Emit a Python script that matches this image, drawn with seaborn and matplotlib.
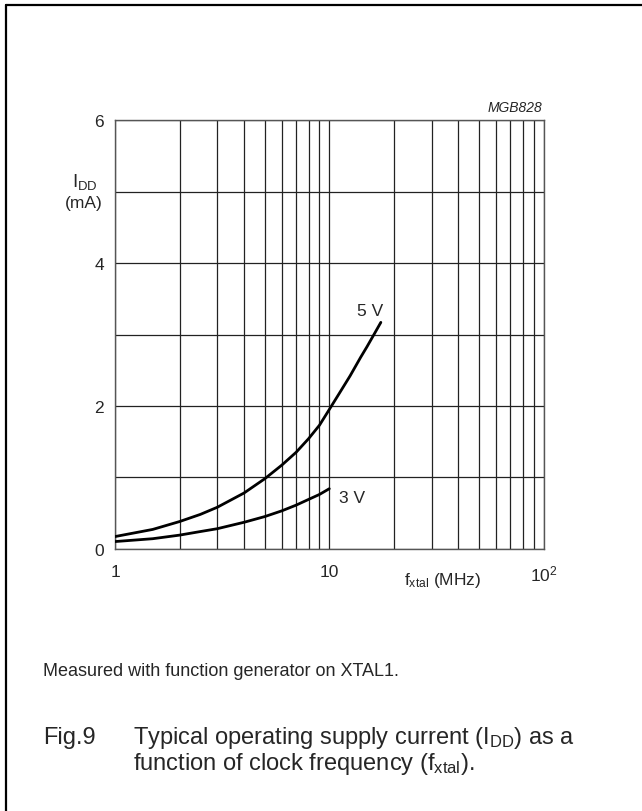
import numpy as np
import pandas as pd
import matplotlib
matplotlib.use("Agg")
import matplotlib.pyplot as plt
from matplotlib.lines import Line2D
import seaborn as sns

# ---- data ----
f_5v = [1, 1.5, 2, 2.5, 3, 4, 5, 6, 7, 8, 9, 10, 11, 12.5, 14, 15, 16.3, 17.4]
i_5v = [0.17, 0.27, 0.38, 0.48, 0.58, 0.78, 0.98, 1.17, 1.35, 1.54, 1.73, 1.95,
        2.15, 2.42, 2.68, 2.83, 3.02, 3.17]
f_3v = [1, 1.5, 2, 2.5, 3, 4, 5, 6, 7, 8, 9, 10]
i_3v = [0.10, 0.14, 0.19, 0.24, 0.28, 0.37, 0.45, 0.53, 0.61, 0.69, 0.76, 0.84]
y_ticks = [0, 2, 4, 6]
x_ticks = [1, 10, 100]
x_tick_labels = ["1", "10", r"10$^{2}$"]

sns.set_style("white")
plt.rcParams["font.family"] = ["Liberation Sans", "DejaVu Sans"]
plt.rcParams["mathtext.fontset"] = "custom"
plt.rcParams["mathtext.rm"] = "Liberation Sans"
plt.rcParams["mathtext.it"] = "Liberation Sans:italic"

df = pd.concat([
    pd.DataFrame({"f": f_5v, "i": i_5v, "v": "5 V"}),
    pd.DataFrame({"f": f_3v, "i": i_3v, "v": "3 V"}),
])

fig = plt.figure(figsize=(6.42, 8.12), dpi=100)
ax = fig.add_axes([115 / 642, 1 - 549.7 / 812, 428.6 / 642, 428.4 / 812])

ax.set_xscale("log")
minor = [k * 10 ** d for d in (0, 1) for k in range(1, 10)] + [100]
for xv in minor:
    ax.axvline(xv, color="#222222", lw=0.9, zorder=1)
for yv in range(0, 7):
    ax.axhline(yv, color="#222222", lw=0.9, zorder=1)

sns.lineplot(data=df, x="f", y="i", units="v", estimator=None, color="black",
             lw=2.0, ax=ax, legend=False, zorder=3)

ax.set_xlim(1, 100)
ax.set_ylim(0, 6)
ax.set_xticks(x_ticks)
ax.set_xticklabels(x_tick_labels)
ax.minorticks_off()
ax.set_yticks(y_ticks)
ax.set_yticklabels([str(v) for v in y_ticks])
ax.tick_params(axis="both", length=0, labelsize=12.5)
ax.tick_params(axis="x", pad=11)
ax.tick_params(axis="y", pad=8)
ax.set_xlabel("")
ax.set_ylabel("")
for s in ax.spines.values():
    s.set_color("#555555")
    s.set_linewidth(1.0)

ax.text(15.5, 3.34, "5 V", ha="center", va="center", fontsize=12.5)
ax.text(12.8, 0.72, "3 V", ha="center", va="center", fontsize=12.5)

W, H = 642, 812
def fx(x):
    return x / W
def fy(y):
    return 1 - y / H

fig.text(fx(542), fy(108), "MGB828", ha="right", va="center", fontsize=10, style="italic")
fig.text(fx(84.5), fy(182), r"I$_{\rm DD}$", ha="center", va="center", fontsize=13.5)
fig.text(fx(84), fy(203.5), "(mA)", ha="center", va="center", fontsize=12.5)
fig.text(fx(442.5), fy(580), r"f$_{\rm xtal}$ (MHz)", ha="center", va="center", fontsize=12.5)

fig.text(fx(43), fy(672), "Measured with function generator on XTAL1.", ha="left",
         va="center", fontsize=13)
fig.text(fx(43), fy(738), "Fig.9", ha="left", va="center", fontsize=17)
fig.text(fx(133), fy(738), r"Typical operating supply current (I$_{\rm DD}$) as a",
         ha="left", va="center", fontsize=17)
fig.text(fx(133), fy(764), r"function of clock frequency (f$_{\rm xtal}$).",
         ha="left", va="center", fontsize=17)

fig.add_artist(Line2D([fx(6), 1], [fy(6), fy(6)], color="black", lw=1.6,
                      transform=fig.transFigure))
fig.add_artist(Line2D([fx(6), fx(6)], [fy(6), 0], color="black", lw=1.6,
                      transform=fig.transFigure))

fig.savefig("out.png", dpi=100)
